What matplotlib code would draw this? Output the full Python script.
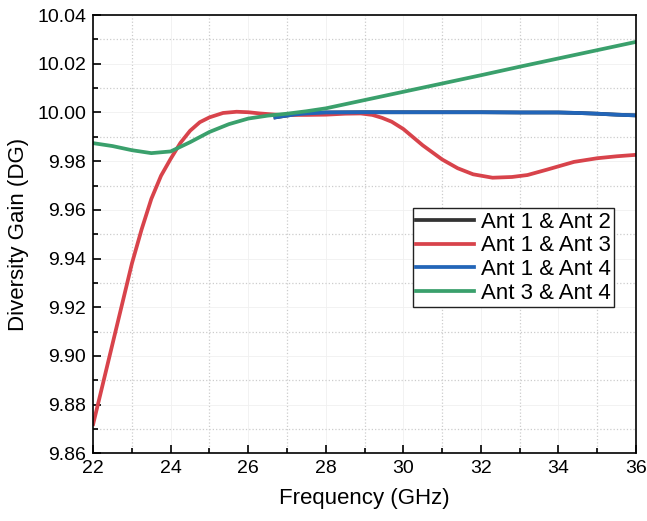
import matplotlib.pyplot as plt
from matplotlib.ticker import MultipleLocator

plt.rcParams['font.family'] = ['Liberation Sans', 'DejaVu Sans']

# Ant 1 & Ant 3
f13 = [22.0, 22.5, 23.0, 23.25, 23.5, 23.75, 24.0, 24.25, 24.5, 24.75, 25.0, 25.35, 25.7, 26.0, 26.3,
       26.8, 27.5, 28.0, 28.5, 28.9, 29.2, 29.45, 29.7, 30.0, 30.5, 31.0, 31.4, 31.8, 32.3, 32.8, 33.2,
       33.7, 34.4, 35.0, 35.5, 36.0]
dg13 = [9.872, 9.905, 9.938, 9.952, 9.9645, 9.974, 9.981, 9.9875, 9.9925, 9.9960, 9.9980, 9.9998, 10.0003, 10.0001, 9.9996,
        9.9990, 9.9990, 9.9991, 9.9995, 9.9996, 9.9990, 9.9978, 9.9962, 9.9932, 9.9865, 9.9807, 9.9771, 9.9746, 9.9732, 9.9735, 9.9743,
        9.9765, 9.9797, 9.9812, 9.9820, 9.9826]

# Ant 1 & Ant 4 (Ant 1 & Ant 2 lies underneath)
f14 = [26.7, 26.9, 27.2, 27.5, 28.0, 29.0, 30.0, 31.0, 32.0, 33.0, 34.0, 34.5, 35.0, 35.5, 36.0]
dg14 = [9.9980, 9.9985, 9.9992, 9.9996, 10.0000, 10.0001, 10.0001, 10.0001, 10.0001, 10.0000, 10.0000,
        9.9998, 9.9995, 9.9991, 9.9988]
dg12 = dg14

# Ant 3 & Ant 4
f34 = [22.0, 22.5, 23.0, 23.5, 24.0, 24.5, 25.0, 25.5, 26.0, 26.5, 27.0, 27.5, 28.0,
       29.0, 30.0, 31.0, 32.0, 33.0, 34.0, 35.0, 36.0]
dg34 = [9.9874, 9.9862, 9.9845, 9.9833, 9.9840, 9.9878, 9.9920, 9.9952, 9.9975, 9.9987, 9.9995, 10.0005, 10.0017,
        10.0051, 10.0085, 10.0119, 10.0153, 10.0188, 10.0222, 10.0256, 10.0290]

fig = plt.figure(figsize=(6.47, 5.21), dpi=100)
ax = fig.add_axes([0.144, 0.13, 0.839, 0.841])

ax.plot(f14, dg12, color="#333333", lw=2.7, label="Ant 1 & Ant 2")
ax.plot(f13, dg13, color="#d8434b", lw=2.7, label="Ant 1 & Ant 3")
ax.plot(f14, dg14, color="#2265b8", lw=2.7, label="Ant 1 & Ant 4")
ax.plot(f34, dg34, color="#3aa06c", lw=2.7, label="Ant 3 & Ant 4")

ax.set_xlim(22, 36)
ax.set_ylim(9.86, 10.04)
ax.xaxis.set_major_locator(MultipleLocator(2))
ax.xaxis.set_minor_locator(MultipleLocator(1))
ax.yaxis.set_major_locator(MultipleLocator(0.02))
ax.yaxis.set_minor_locator(MultipleLocator(0.01))
ax.yaxis.set_major_formatter(lambda v, pos: f"{v:.2f}")
ax.tick_params(which="both", direction="in", labelsize=14, width=1.2)
ax.tick_params(which="major", length=6, pad=5)
ax.tick_params(which="minor", length=3.5)
ax.grid(which="minor", color="#cccccc", linestyle=":", linewidth=0.9)
ax.grid(which="major", color="#f0f0f0", linestyle="-", linewidth=0.6)
ax.set_axisbelow(True)
for s in ax.spines.values():
    s.set_linewidth(1.2)

ax.set_xlabel("Frequency (GHz)", fontsize=16, labelpad=8)
ax.set_ylabel("Diversity Gain (DG)", fontsize=16, labelpad=6)

leg = ax.legend(loc="upper left", bbox_to_anchor=(0.589, 0.559), borderaxespad=0, fontsize=16,
                handlelength=2.6, handletextpad=0.3, borderpad=0.15, labelspacing=0.12,
                fancybox=False, edgecolor="#222222", framealpha=1)
leg.get_frame().set_linewidth(1.0)

fig.savefig("out.png", dpi=100)
